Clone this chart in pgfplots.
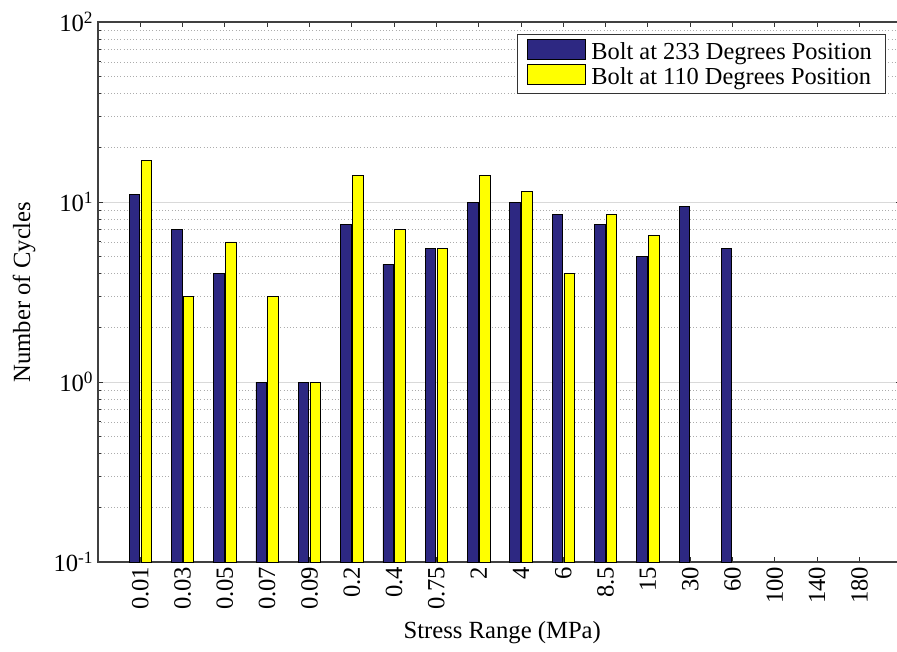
\documentclass[border=0pt]{standalone}
\usepackage{pgfplots}
\pgfplotsset{compat=1.18}
\usepackage{fontspec}
\setmainfont{Liberation Serif}
\definecolor{boltblue}{RGB}{45,40,130}
\definecolor{boltyellow}{RGB}{255,255,0}
\begin{document}
\begin{tikzpicture}[font=\fontsize{18.5}{22}\selectfont]
\begin{axis}[
  scale only axis,
  width=602.8pt, height=405pt,
  ymode=log, log origin=infty,
  ymin=0.1, ymax=100,
  xmin=-1, xmax=18,
  xtick={0,...,17},
  xticklabels={0.01,0.03,0.05,0.07,0.09,0.2,0.4,0.75,2,4,6,8.5,15,30,60,100,140,180},
  xticklabel style={rotate=90, anchor=east},
  ytick={0.1,1,10,100},
  yticklabels={10\textsuperscript{-1},10\textsuperscript{0},10\textsuperscript{1},10\textsuperscript{2}},
  /pgf/number format/assume math mode=true,
  tick align=inside,
  major tick length=4pt, minor tick length=2.2pt,
  ymajorgrids=true, yminorgrids=true,
  major grid style={solid, gray!30, line width=0.6pt},
  minor grid style={dotted, gray!65, line width=0.6pt},
  axis line style={black!75, line width=0.8pt},
  every tick/.style={black!80, line width=0.7pt},
  xlabel={Stress Range (MPa)},
  ylabel={Number of Cycles},
  every axis x label/.style={at={(axis description cs:0.503,-0.13)}, anchor=center},
  every axis y label/.style={at={(axis description cs:-0.092,0.5)}, rotate=90, anchor=center},
  legend style={at={(0.981,0.978)}, anchor=north east, draw=black!80, line width=0.8pt,
    font=\fontsize{18.3}{20}\selectfont, row sep=0.5pt, inner xsep=6.5pt, inner ysep=3.5pt,
    nodes={inner xsep=4pt, inner ysep=1.5pt}},
  legend cell align=left,
  legend image code/.code={\draw[#1] (0pt,-5.5pt) rectangle (44pt,9.5pt);},
]
\addplot[ybar, bar width=0.25, bar shift=-0.14, fill=boltblue, draw=black, line width=0.6pt]
  coordinates {(0,11) (1,7) (2,4) (3,1) (4,1) (5,7.5) (6,4.5) (7,5.5) (8,10) (9,10) (10,8.5) (11,7.5) (12,5) (13,9.5) (14,5.5)};
\addlegendentry{Bolt at 233 Degrees Position}
\addplot[ybar, bar width=0.25, bar shift=0.14, fill=boltyellow, draw=black, line width=0.6pt]
  coordinates {(0,17) (1,3) (2,6) (3,3) (4,1) (5,14) (6,7) (7,5.5) (8,14) (9,11.5) (10,4) (11,8.5) (12,6.5)};
\addlegendentry{Bolt at 110 Degrees Position}
\end{axis}
\pgfresetboundingbox
\path (-73.5pt,421.5pt) rectangle (599.25pt,-66.75pt);
\end{tikzpicture}
\end{document}
